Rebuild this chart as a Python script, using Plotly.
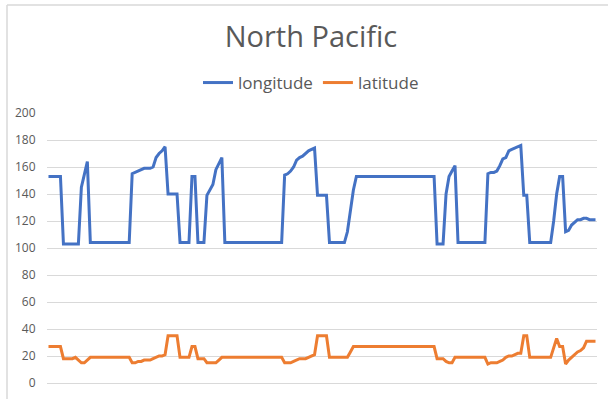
import plotly.graph_objects as go

title_text = "North Pacific"
series_names = ["longitude", "latitude"]

longitude = (
    [153] * 5 + [103] * 6 + [145, 155, 164] + [104] * 14
    + [155, 156, 157, 158, 159, 159, 159, 160, 167, 170, 172, 175]
    + [140] * 4 + [104] * 4 + [153] * 2 + [104] * 3
    + [139, 143, 147, 158, 163, 167] + [104] * 20
    + [154, 155, 157, 160, 165, 167, 168, 170, 172, 173, 174]
    + [139] * 4 + [104] * 6 + [112, 128, 143] + [153] * 27
    + [103] * 3 + [140, 153, 157, 161] + [104] * 10
    + [155, 156, 156, 157, 161, 166, 167, 172, 173, 174, 175, 176]
    + [139] * 2 + [104] * 8 + [120, 140, 153, 153]
    + [112, 113, 117, 119, 121, 121, 122, 122, 121, 121, 121]
)

latitude = (
    [27] * 5 + [18] * 4 + [19, 17, 15, 15, 17] + [19] * 14
    + [15, 15, 16, 16, 17, 17, 17, 18, 19, 20, 20, 21]
    + [35] * 4 + [19] * 4 + [27] * 2 + [18] * 3 + [15] * 4 + [17, 19]
    + [19] * 20 + [15, 15, 15, 16, 17, 18, 18, 18, 19, 20, 21]
    + [35] * 4 + [19] * 7 + [23, 27] + [27] * 27
    + [18] * 3 + [16, 15, 15, 19] + [19] * 10
    + [14, 15, 15, 15, 16, 17, 19, 20, 20, 21, 22, 22]
    + [35] * 2 + [19] * 8 + [26, 33, 27, 27]
    + [14, 17, 19, 21, 23, 24, 26, 31, 31, 31, 31]
)

y_ticks = [0, 20, 40, 60, 80, 100, 120, 140, 160, 180, 200]

categories = list(range(1, len(longitude) + 1))

W, H = 608, 399
fig = go.Figure()
fig.add_trace(go.Scatter(x=categories, y=longitude, mode="lines", name=series_names[0],
                         line=dict(color="#4472C4", width=3)))
fig.add_trace(go.Scatter(x=categories, y=latitude, mode="lines", name=series_names[1],
                         line=dict(color="#ED7D31", width=3)))

fig.update_layout(
    width=W, height=H,
    margin=dict(l=47, r=11, t=113, b=16, autoexpand=False),
    paper_bgcolor="white", plot_bgcolor="white",
    font=dict(family="Open Sans, sans-serif", color="#595959"),
    title=dict(text=title_text, x=311 / W, xanchor="center", y=1 - 37 / H, yanchor="middle",
               yref="container", xref="container",
               font=dict(size=29, color="#595959", family="Open Sans, sans-serif")),
    legend=dict(orientation="h", x=311 / W, xanchor="center", y=1 - 83 / H, yanchor="middle",
                xref="container", yref="container",
                font=dict(size=17, color="#595959"), itemwidth=30, bgcolor="rgba(0,0,0,0)"),
    showlegend=True,
    xaxis=dict(range=[0.5, len(longitude) + 0.5], showticklabels=False, showgrid=False,
               zeroline=False, showline=False, ticks="", automargin=False),
    yaxis=dict(range=[0, 200], tickvals=y_ticks, showgrid=True, gridcolor="#D9D9D9", gridwidth=1,
               zeroline=True, zerolinecolor="#D9D9D9", zerolinewidth=1, showline=False,
               ticks="outside", ticklen=8, tickcolor="rgba(0,0,0,0)", automargin=False,
               tickfont=dict(size=12, color="#595959")),
    shapes=[
        dict(type="line", xref="paper", yref="paper", x0=-40 / 550, x1=1.2, y0=1 + 108 / 270, y1=1 + 108 / 270,
             line=dict(color="#D9D9D9", width=1.5)),
        dict(type="line", xref="paper", yref="paper", x0=-40 / 550, x1=-40 / 550, y0=-0.2, y1=1 + 108 / 270,
             line=dict(color="#D9D9D9", width=1.5)),
    ],
)

fig.write_html("out.html", config={"displayModeBar": False},
               post_script="document.body.style.margin='0';document.body.style.overflow='hidden';")
